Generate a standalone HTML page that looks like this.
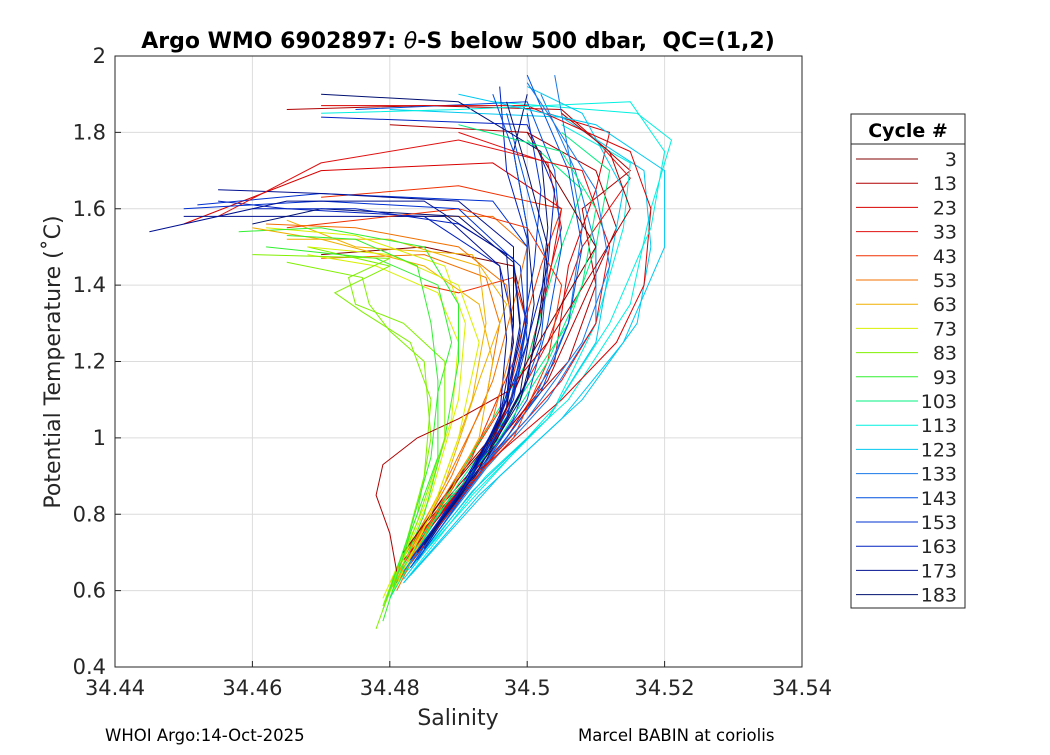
<!DOCTYPE html>
<html><head><meta charset="utf-8"><style>
body{margin:0;background:#fff;font-family:"Liberation Sans","DejaVu Sans",sans-serif;}
svg text{font-family:"DejaVu Sans","Liberation Sans",sans-serif;}
</style></head><body>
<svg id="chart" width="1050" height="750" xmlns="http://www.w3.org/2000/svg">
<rect width="1050" height="750" fill="#fff"/>
<g id="grid"></g>
<g id="series"></g>
<rect x="115" y="56" width="687" height="611" fill="none" stroke="#262626" stroke-width="1"/>
<g id="ticks"></g>
<text x="458" y="48" text-anchor="middle" font-size="22" font-weight="bold" xml:space="preserve">Argo WMO 6902897: <tspan font-style="italic" font-weight="normal">θ</tspan>-S below 500 dbar,  QC=(1,2)</text>
<text x="458" y="725" text-anchor="middle" font-size="22" fill="#262626">Salinity</text>
<text transform="translate(60,362) rotate(-90)" text-anchor="middle" font-size="22" fill="#262626">Potential Temperature (˚C)</text>
<text x="105" y="741" font-size="16.5">WHOI Argo:14-Oct-2025</text>
<text x="578" y="741" font-size="16.5">Marcel BABIN at coriolis</text>
<g id="legend">
<rect x="851" y="114" width="114" height="494" fill="#fff" stroke="#262626"/>
<line x1="851" y1="144" x2="965" y2="144" stroke="#262626"/>
<text x="908" y="137" text-anchor="middle" font-size="19" font-weight="bold">Cycle #</text>
</g>
</svg>
<script>
const xTicks=[34.44,34.46,34.48,34.5,34.52,34.54];
const yTicks=[0.4,0.6,0.8,1,1.2,1.4,1.6,1.8,2];
const xTickLabels=["34.44","34.46","34.48","34.5","34.52","34.54"];
const yTickLabels=["0.4","0.6","0.8","1","1.2","1.4","1.6","1.8","2"];
const cycles=[3,13,23,33,43,53,63,73,83,93,103,113,123,133,143,153,163,173,183];
const colors=["#800000","#b00000","#d80000","#e01010","#f03000","#f07000","#f0b000","#d8f000","#80f000","#30f030","#00f080","#00f0e0","#00c8f0","#1878e8","#0050e0","#0030d0","#0020c0","#001090","#001070"];
const p3=[[34.482,0.7],[34.488,0.85],[34.495,1.0],[34.5,1.2],[34.505,1.35],[34.51,1.5],[34.505,1.65],[34.5,1.8]];
const p13=[[34.481,0.65],[34.48,0.75],[34.478,0.85],[34.479,0.93],[34.484,1.0],[34.49,1.05],[34.497,1.12],[34.503,1.25],[34.51,1.45],[34.515,1.6],[34.512,1.75],[34.505,1.85]];
const p23=[[34.483,0.7],[34.492,0.9],[34.505,1.1],[34.513,1.25],[34.517,1.4],[34.518,1.6],[34.515,1.75],[34.5,1.87],[34.47,1.87]];
const p33=[[34.482,0.65],[34.495,0.95],[34.505,1.15],[34.51,1.3],[34.512,1.5],[34.508,1.7],[34.49,1.78],[34.47,1.72],[34.455,1.58]];
const p43=[[34.481,0.62],[34.49,0.85],[34.498,1.0],[34.503,1.2],[34.505,1.4],[34.5,1.55],[34.49,1.6],[34.475,1.57],[34.465,1.55]];
const p53=[[34.481,0.6],[34.488,0.85],[34.495,1.05],[34.498,1.25],[34.497,1.4],[34.49,1.5],[34.475,1.55],[34.462,1.56]];
const p63=[[34.48,0.6],[34.487,0.8],[34.493,1.0],[34.495,1.2],[34.493,1.35],[34.485,1.45],[34.47,1.52],[34.46,1.55]];
const p73=[[34.48,0.58],[34.486,0.8],[34.49,1.0],[34.493,1.25],[34.49,1.4],[34.48,1.48],[34.468,1.5]];
const p83=[[34.479,0.55],[34.484,0.78],[34.488,1.0],[34.488,1.2],[34.482,1.3],[34.475,1.35],[34.474,1.42],[34.48,1.47],[34.46,1.48]];
const p93=[[34.479,0.52],[34.483,0.75],[34.487,0.95],[34.487,1.15],[34.486,1.3],[34.484,1.45],[34.475,1.52],[34.465,1.53]];
const p103=[[34.48,0.58],[34.487,0.8],[34.496,1.0],[34.503,1.2],[34.508,1.4],[34.51,1.6],[34.505,1.75],[34.49,1.82]];
const p113=[[34.482,0.62],[34.492,0.85],[34.503,1.05],[34.512,1.3],[34.518,1.55],[34.52,1.75],[34.515,1.88],[34.49,1.86],[34.47,1.85]];
const p123=[[34.482,0.62],[34.493,0.85],[34.505,1.05],[34.514,1.25],[34.52,1.5],[34.52,1.7],[34.51,1.82],[34.49,1.9]];
const p133=[[34.482,0.65],[34.492,0.9],[34.5,1.05],[34.508,1.25],[34.512,1.45],[34.51,1.65],[34.503,1.85],[34.5,1.93]];
const p143=[[34.483,0.66],[34.49,0.85],[34.497,1.05],[34.5,1.3],[34.5,1.55],[34.498,1.75],[34.495,1.9]];
const p153=[[34.483,0.68],[34.491,0.88],[34.497,1.05],[34.5,1.25],[34.499,1.45],[34.49,1.6],[34.47,1.62],[34.45,1.6]];
const p163=[[34.484,0.7],[34.492,0.9],[34.497,1.1],[34.499,1.3],[34.498,1.47],[34.49,1.56],[34.475,1.6],[34.46,1.6]];
const p173=[[34.484,0.7],[34.49,0.85],[34.496,1.05],[34.498,1.25],[34.497,1.48],[34.485,1.62],[34.465,1.62],[34.445,1.54]];
const p183=[[34.485,0.72],[34.493,0.92],[34.499,1.1],[34.502,1.3],[34.503,1.5],[34.5,1.7],[34.497,1.88]];
const profiles=[p3,p13,p23,p33,p43,p53,p63,p73,p83,p93,p103,p113,p123,p133,p143,p153,p163,p173,p183];

// additional profiles: cycle index into colors, and points
const extraCycleIndex=[0,1,1,2,2,3,3,4,4,5,5,6,6,7,7,8,8,9,9,10,10,11,11,12,12,13,13,14,14,15,15,16,16,17,17,18,18,18,14,16];
const extraProfiles=[
[[34.483,0.72],[34.49,0.9],[34.497,1.05],[34.5,1.3],[34.498,1.45],[34.485,1.5],[34.47,1.48]],
[[34.482,0.7],[34.494,0.95],[34.503,1.15],[34.508,1.35],[34.513,1.55],[34.51,1.7],[34.5,1.8],[34.48,1.82]],
[[34.484,0.75],[34.496,1.0],[34.506,1.2],[34.51,1.4],[34.508,1.6],[34.515,1.7],[34.505,1.86],[34.485,1.87],[34.465,1.86]],
[[34.483,0.72],[34.497,1.0],[34.504,1.2],[34.506,1.45],[34.51,1.65],[34.512,1.8],[34.503,1.85]],
[[34.482,0.68],[34.494,0.95],[34.5,1.2],[34.503,1.4],[34.505,1.6],[34.495,1.72],[34.47,1.7],[34.45,1.56]],
[[34.483,0.7],[34.495,0.98],[34.503,1.25],[34.508,1.5],[34.515,1.68],[34.51,1.78]],
[[34.482,0.66],[34.493,0.92],[34.5,1.15],[34.502,1.35],[34.505,1.55],[34.503,1.72],[34.49,1.8]],
[[34.481,0.64],[34.49,0.9],[34.497,1.1],[34.5,1.3],[34.498,1.42],[34.49,1.38],[34.485,1.4]],
[[34.482,0.66],[34.492,0.95],[34.498,1.2],[34.502,1.45],[34.505,1.6],[34.49,1.66],[34.47,1.63]],
[[34.48,0.62],[34.488,0.88],[34.494,1.1],[34.496,1.3],[34.494,1.42],[34.485,1.48],[34.47,1.47]],
[[34.481,0.64],[34.489,0.9],[34.495,1.15],[34.498,1.35],[34.5,1.5],[34.495,1.58],[34.48,1.58]],
[[34.48,0.6],[34.487,0.85],[34.492,1.1],[34.494,1.3],[34.493,1.45],[34.48,1.52],[34.465,1.52]],
[[34.481,0.62],[34.488,0.88],[34.493,1.15],[34.497,1.35],[34.492,1.48],[34.475,1.5],[34.465,1.57]],
[[34.479,0.58],[34.485,0.82],[34.489,1.05],[34.49,1.25],[34.487,1.38],[34.478,1.45],[34.468,1.48]],
[[34.48,0.6],[34.486,0.85],[34.49,1.1],[34.491,1.3],[34.488,1.45],[34.475,1.53],[34.462,1.55]],
[[34.478,0.5],[34.482,0.7],[34.485,0.9],[34.486,1.1],[34.483,1.25],[34.476,1.33],[34.472,1.38],[34.48,1.45],[34.468,1.5]],
[[34.479,0.56],[34.484,0.8],[34.486,1.0],[34.485,1.2],[34.48,1.28],[34.477,1.35],[34.476,1.42],[34.465,1.46]],
[[34.479,0.55],[34.483,0.76],[34.486,0.95],[34.487,1.12],[34.489,1.25],[34.487,1.4],[34.478,1.47],[34.462,1.5]],
[[34.48,0.58],[34.485,0.8],[34.488,1.0],[34.49,1.2],[34.49,1.35],[34.485,1.5],[34.47,1.55],[34.458,1.54]],
[[34.48,0.6],[34.488,0.84],[34.494,1.02],[34.5,1.2],[34.504,1.45],[34.508,1.65],[34.5,1.78]],
[[34.481,0.62],[34.49,0.88],[34.498,1.08],[34.506,1.3],[34.51,1.5],[34.512,1.7],[34.505,1.8]],
[[34.482,0.64],[34.494,0.9],[34.506,1.1],[34.515,1.35],[34.518,1.6],[34.521,1.78],[34.516,1.85],[34.495,1.88]],
[[34.483,0.66],[34.494,0.88],[34.504,1.08],[34.51,1.3],[34.514,1.55],[34.515,1.72],[34.505,1.82]],
[[34.483,0.64],[34.496,0.9],[34.508,1.1],[34.516,1.3],[34.518,1.5],[34.517,1.7],[34.505,1.84],[34.48,1.86]],
[[34.482,0.63],[34.492,0.86],[34.503,1.05],[34.51,1.25],[34.512,1.45],[34.514,1.65],[34.508,1.85],[34.5,1.92]],
[[34.483,0.66],[34.494,0.92],[34.503,1.1],[34.51,1.3],[34.51,1.5],[34.507,1.7],[34.502,1.9]],
[[34.482,0.65],[34.493,0.9],[34.501,1.1],[34.506,1.3],[34.508,1.55],[34.506,1.75],[34.504,1.95]],
[[34.484,0.68],[34.492,0.88],[34.5,1.1],[34.503,1.3],[34.505,1.5],[34.504,1.7],[34.5,1.88],[34.475,1.86]],
[[34.483,0.67],[34.491,0.86],[34.498,1.05],[34.502,1.25],[34.503,1.45],[34.5,1.65],[34.497,1.85]],
[[34.484,0.7],[34.492,0.9],[34.498,1.1],[34.5,1.3],[34.5,1.5],[34.495,1.62],[34.47,1.64],[34.452,1.61]],
[[34.484,0.7],[34.49,0.86],[34.496,1.05],[34.499,1.25],[34.501,1.45],[34.502,1.65],[34.5,1.85]],
[[34.484,0.7],[34.493,0.92],[34.498,1.12],[34.5,1.32],[34.5,1.52],[34.497,1.7],[34.496,1.92]],
[[34.485,0.72],[34.491,0.88],[34.497,1.08],[34.498,1.3],[34.496,1.45],[34.485,1.58],[34.465,1.6],[34.455,1.62]],
[[34.484,0.7],[34.492,0.9],[34.497,1.1],[34.498,1.3],[34.498,1.5],[34.49,1.62],[34.47,1.64],[34.455,1.65]],
[[34.485,0.71],[34.491,0.87],[34.496,1.06],[34.497,1.26],[34.496,1.45],[34.488,1.58],[34.47,1.58],[34.45,1.58]],
[[34.485,0.72],[34.493,0.92],[34.499,1.12],[34.501,1.35],[34.5,1.55],[34.498,1.75],[34.5,1.9]],
[[34.485,0.73],[34.492,0.9],[34.497,1.08],[34.499,1.28],[34.498,1.46],[34.49,1.58],[34.47,1.6],[34.46,1.56]],
[[34.486,0.74],[34.494,0.94],[34.5,1.15],[34.502,1.35],[34.503,1.55],[34.502,1.75],[34.49,1.88],[34.47,1.9]],
[[34.485,0.72],[34.494,0.93],[34.502,1.12],[34.506,1.3],[34.508,1.5],[34.506,1.7],[34.5,1.95]],
[[34.484,0.7],[34.49,0.86],[34.496,1.05],[34.5,1.25],[34.503,1.45],[34.504,1.65],[34.5,1.82],[34.47,1.84]]
];

const NS="http://www.w3.org/2000/svg";
const X0=115,X1=802,Y0=667,Y1=56;
const xs=v=>X0+(v-34.44)/(0.1)*(X1-X0);
const ys=v=>Y0-(v-0.4)/(1.6)*(Y0-Y1);
function mk(tag,attrs,parent){const e=document.createElementNS(NS,tag);for(const k in attrs)e.setAttribute(k,attrs[k]);parent.appendChild(e);return e;}
function pts(p){return p.map(d=>xs(d[0]).toFixed(1)+','+ys(d[1]).toFixed(1)).join(' ');}
const grid=document.getElementById('grid'),ticks=document.getElementById('ticks'),series=document.getElementById('series'),legend=document.getElementById('legend');
xTicks.forEach((t,i)=>{
  const x=xs(t);
  const g=mk('line',{x1:x,x2:x,y1:Y1,y2:Y0,stroke:'#dcdcdc'},grid);
  
  
  const tl=mk('line',{x1:x,x2:x,y1:Y0,y2:Y0-6,stroke:'#262626'},ticks);
  
  
  const tx=mk('text',{x:x,y:Y0+28,'text-anchor':'middle','font-size':'21',fill:'#262626'},ticks);
  tx.textContent=xTickLabels[i];
  
  
});
yTicks.forEach((t,i)=>{
  const y=ys(t);
  const g=mk('line',{x1:X0,x2:X1,y1:y,y2:y,stroke:'#dcdcdc'},grid);
  
  
  const tl=mk('line',{x1:X0,x2:X0+6,y1:y,y2:y,stroke:'#262626'},ticks);
  
  
  const tx=mk('text',{x:X0-9,y:y+7,'text-anchor':'end','font-size':'21',fill:'#262626'},ticks);
  tx.textContent=yTickLabels[i];
  
  
});
extraProfiles.forEach((p,i)=>{
  const ci=extraCycleIndex[i];
  const pl=mk('polyline',{points:pts(p),fill:'none',stroke:colors[ci],'stroke-width':'1'},series);
  
  
});
profiles.forEach((p,i)=>{
  const pl=mk('polyline',{points:pts(p),fill:'none',stroke:colors[i],'stroke-width':'1'},series);
  
  
  const ly=159+i*24.2;
  const ll=mk('line',{x1:856,x2:918,y1:ly,y2:ly,stroke:colors[i]},legend);
  
  
  const lt=mk('text',{x:957,y:ly+7,'text-anchor':'end','font-size':'19',fill:'#262626'},legend);
  lt.textContent=cycles[i];
  
  
});
</script>
</body></html>
